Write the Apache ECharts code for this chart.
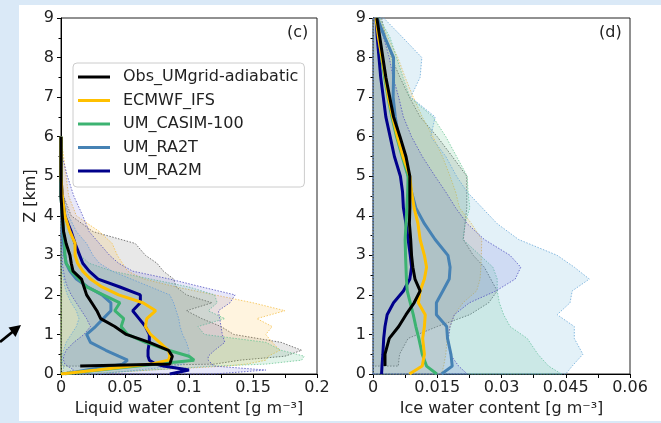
<!DOCTYPE html>
<html>
<head>
<meta charset="utf-8">
<script src="https://cdn.jsdelivr.net/npm/echarts/dist/echarts.min.js"></script>
<style>
html, body { margin: 0; padding: 0; background: #dae9f7; }
#paper { position: absolute; left: 19px; top: 5px; width: 642px; height: 416px; background: #fff; }
#chart { position: absolute; left: 0; top: 0; width: 661px; height: 423px; }
</style>
</head>
<body>
<div id="paper"></div>
<div id="chart"></div>
<script>
var FONT = 'DejaVu Sans';

var names = ['Obs_UMgrid-adiabatic', 'ECMWF_IFS', 'UM_CASIM-100', 'UM_RA2T', 'UM_RA2M'];
var colors = ['#000000', '#FFC000', '#3CB371', '#4682B4', '#00008B'];
var bandFill = ['rgba(100,100,100,0.15)', 'rgba(255,180,40,0.15)', 'rgba(60,179,113,0.15)', 'rgba(100,180,215,0.18)', 'rgba(80,80,220,0.13)'];
var bandEdge = ['#555555', '#f5c04a', '#6cc795', '#6aa8d8', '#5050c0'];

// tick labels
var xLabelsC = ['0', '0.05', '0.1', '0.15', '0.2'];
var xLabelsD = ['0', '0.015', '0.03', '0.045', '0.06'];

// (c) liquid water content, heights in km
var zC = [0, 0.1, 0.2, 0.25, 0.35, 0.45, 0.6, 0.8, 1.0, 1.2, 1.4, 1.6, 1.8, 2.0, 2.2, 2.4, 2.6, 2.8, 3.0, 3.3, 3.6, 4.0, 4.5, 5.0, 5.5, 6.0];
var obsC = [null, null, 0.015, 0.085, 0.086, 0.087, 0.084, 0.069, 0.051, 0.042, 0.031, 0.028, 0.024, 0.020, 0.018, 0.016, 0.0094, 0.008, 0.007, 0.004, 0.002, 0.001, 0, 0, 0, 0];
var ecC = [0, 0.028, 0.055, 0.07, 0.084, 0.085, 0.084, 0.077, 0.070, 0.066, 0.067, 0.074, 0.064, 0.045, 0.032, 0.023, 0.017, 0.013, 0.011, 0.011, 0.007, 0.003, 0.001, 0, 0, 0];
var csC = [0, 0.03, 0.06, 0.075, 0.104, 0.1, 0.084, 0.066, 0.052, 0.047, 0.049, 0.042, 0.046, 0.033, 0.02, 0.014, 0.008, 0.004, 0.003, 0.003, 0.002, 0.001, 0, 0, 0, 0];
var taC = [0.003, 0.02, 0.04, 0.048, 0.052, 0.045, 0.035, 0.023, 0.02, 0.027, 0.033, 0.039, 0.039, 0.032, 0.021, 0.012, 0.007, 0.004, 0.003, 0.002, 0.001, 0.001, 0, 0, 0, 0];
var maC = [0.085, 0.1, 0.08, 0.074, 0.069, 0.068, 0.068, 0.069, 0.069, 0.066, 0.061, 0.056, 0.062, 0.062, 0.046, 0.029, 0.022, 0.017, 0.0146, 0.011, 0.008, 0.003, 0.001, 0, 0, 0];
// upper / lower edges of shading
var obsHiC = [null, null, 0.03, 0.12, 0.14, 0.175, 0.188, 0.172, 0.135, 0.125, 0.11, 0.098, 0.118, 0.098, 0.09, 0.088, 0.08, 0.075, 0.066, 0.058, 0.025, 0.008, 0.002, 0, 0, 0];
var ecHiC = [0.02, 0.07, 0.13, 0.145, 0.16, 0.162, 0.171, 0.165, 0.16, 0.165, 0.153, 0.175, 0.15, 0.12, 0.09, 0.065, 0.052, 0.048, 0.044, 0.04, 0.03, 0.012, 0.006, 0.004, 0.002, 0];
var csHiC = [0.02, 0.07, 0.12, 0.16, 0.188, 0.19, 0.172, 0.16, 0.112, 0.107, 0.128, 0.115, 0.122, 0.12, 0.1, 0.07, 0.04, 0.022, 0.015, 0.01, 0.006, 0.003, 0.001, 0, 0, 0];
var taHiC = [0.03, 0.06, 0.09, 0.095, 0.1, 0.1, 0.1, 0.098, 0.095, 0.093, 0.092, 0.09, 0.088, 0.085, 0.07, 0.055, 0.04, 0.03, 0.025, 0.02, 0.012, 0.006, 0.002, 0, 0, 0];
var maHiC = [0.12, 0.16, 0.12, 0.118, 0.115, 0.115, 0.12, 0.128, 0.126, 0.125, 0.124, 0.123, 0.132, 0.136, 0.11, 0.085, 0.056, 0.045, 0.038, 0.03, 0.022, 0.017, 0.01, 0.005, 0.001, 0];
var taLoC = [0, 0.002, 0.002, 0.001, 0.001, 0.001, 0.002, 0.004, 0.008, 0.012, 0.014, 0.012, 0.008, 0.005, 0.003, 0.002, 0.001, 0, 0, 0, 0, 0, 0, 0, 0, 0];
var maLoC = [0, 0.01, 0.005, 0.003, 0.002, 0.002, 0.004, 0.01, 0.018, 0.023, 0.02, 0.016, 0.012, 0.008, 0.005, 0.003, 0.002, 0.001, 0.001, 0, 0, 0, 0, 0, 0, 0];

// (d) ice water content
var zD = [0, 0.2, 0.5, 0.9, 1.2, 1.5, 1.8, 2.1, 2.4, 2.7, 3.0, 3.4, 3.8, 4.2, 4.6, 5.0, 5.5, 6.0, 6.5, 7.0, 7.5, 8.0, 8.5, 9.0];
var obsD = [null, 0.0028, 0.0028, 0.0038, 0.006, 0.0077, 0.0096, 0.011, 0.0098, 0.0093, 0.009, 0.0088, 0.0085, 0.0086, 0.0086, 0.0086, 0.0077, 0.0063, 0.0048, 0.0039, 0.003, 0.0023, 0.0016, 0.0009];
var ecD = [0.0085, 0.0115, 0.012, 0.0116, 0.012, 0.0122, 0.0106, 0.011, 0.012, 0.0125, 0.012, 0.011, 0.0105, 0.0096, 0.009, 0.0086, 0.007, 0.0057, 0.0046, 0.0036, 0.0029, 0.0021, 0.0013, 0.0007];
var csD = [0.0149, 0.0125, 0.0115, 0.0107, 0.01, 0.0094, 0.0087, 0.008, 0.0078, 0.0077, 0.0076, 0.0075, 0.0077, 0.0079, 0.0081, 0.0082, 0.0068, 0.0055, 0.0044, 0.0035, 0.0027, 0.002, 0.0014, 0.0008];
var taD = [0.016, 0.0185, 0.0182, 0.0174, 0.0172, 0.0148, 0.0148, 0.0163, 0.0178, 0.018, 0.0175, 0.0145, 0.012, 0.01, 0.009, 0.0082, 0.0072, 0.006, 0.0052, 0.0047, 0.0048, 0.0048, 0.0028, 0.001];
var maD = [0.002, 0.0021, 0.0023, 0.0025, 0.0028, 0.0033, 0.0048, 0.0071, 0.0086, 0.009, 0.0087, 0.0082, 0.0077, 0.0071, 0.0069, 0.0064, 0.005, 0.004, 0.003, 0.0024, 0.0018, 0.0014, 0.001, 0.0007];
var obsHiD = [null, 0.0059, 0.0062, 0.0082, 0.015, 0.0226, 0.027, 0.029, 0.0275, 0.026, 0.0234, 0.0211, 0.0215, 0.0219, 0.0219, 0.0219, 0.0185, 0.015, 0.011, 0.0085, 0.0063, 0.0043, 0.003, 0.002];
var ecHiD = [0.016, 0.0165, 0.017, 0.0173, 0.018, 0.019, 0.021, 0.0242, 0.025, 0.0252, 0.0253, 0.0254, 0.023, 0.0202, 0.0193, 0.018, 0.0162, 0.014, 0.0115, 0.0094, 0.0075, 0.0058, 0.0035, 0.0015];
var csHiD = [0.044, 0.041, 0.0385, 0.036, 0.032, 0.0305, 0.0295, 0.029, 0.029, 0.028, 0.025, 0.021, 0.0215, 0.0226, 0.0222, 0.022, 0.0195, 0.017, 0.014, 0.0086, 0.007, 0.0055, 0.004, 0.0015];
var taHiD = [0.045, 0.0465, 0.049, 0.047, 0.047, 0.043, 0.046, 0.0465, 0.0505, 0.047, 0.043, 0.034, 0.029, 0.0255, 0.022, 0.0195, 0.017, 0.0135, 0.0145, 0.0088, 0.011, 0.0114, 0.007, 0.0025];
var maHiD = [0.022, 0.02, 0.018, 0.0176, 0.018, 0.019, 0.0225, 0.0287, 0.0332, 0.0345, 0.032, 0.026, 0.022, 0.0193, 0.017, 0.0145, 0.0115, 0.009, 0.0071, 0.006, 0.0047, 0.0038, 0.0025, 0.001];

var meansC = [obsC, ecC, csC, taC, maC];
var hiC = [obsHiC, ecHiC, csHiC, taHiC, maHiC];
var loC = [null, null, null, taLoC, maLoC];
var meansD = [obsD, ecD, csD, taD, maD];
var hiD = [obsHiD, ecHiD, csHiD, taHiD, maHiD];
var loD = [null, null, null, null, null];

function pairs(vals, z) {
    var out = [];
    for (var i = 0; i < vals.length; i++) {
        if (vals[i] != null) out.push([vals[i], z[i]]);
    }
    return out;
}

// shaded range drawn as one polygon through the axis scales
function band(lo, hi, z, gi, k) {
    return {
        type: 'custom',
        xAxisIndex: gi,
        yAxisIndex: gi,
        z: 1,
        silent: true,
        animation: false,
        data: [[0, 0]],
        renderItem: function (params, api) {
            var up = [], down = [];
            for (var i = 0; i < z.length; i++) {
                if (hi[i] == null) continue;
                down.push(api.coord([lo ? lo[i] : 0, z[i]]));
                up.push(api.coord([hi[i], z[i]]));
            }
            return {
                type: 'polygon',
                shape: { points: down.concat(up.reverse()) },
                style: { fill: bandFill[k], stroke: bandEdge[k], lineWidth: 0.8, lineDash: [1.5, 1.5] }
            };
        }
    };
}

function meanLine(vals, z, gi, k) {
    return {
        type: 'line',
        name: names[k],
        xAxisIndex: gi,
        yAxisIndex: gi,
        data: pairs(vals, z),
        symbol: 'none',
        animation: false,
        z: k === 0 ? 6 : 5,
        lineStyle: { color: colors[k], width: 3 },
        itemStyle: { color: colors[k] }
    };
}

var series = [];
for (var k = 0; k < 5; k++) series.push(band(loC[k], hiC[k], zC, 0, k));
for (var k = 0; k < 5; k++) series.push(band(loD[k], hiD[k], zD, 1, k));
for (var k = 4; k >= 0; k--) {
    series.push(meanLine(meansC[k], zC, 0, k));
    series.push(meanLine(meansD[k], zD, 1, k));
}

function xAxisOf(gi, max, step, labels, title) {
    return {
        gridIndex: gi,
        type: 'value',
        min: 0,
        max: max,
        interval: step,
        axisLine: { show: true, lineStyle: { color: '#000', width: 1 } },
        axisTick: { show: true, length: 4, lineStyle: { color: '#000' } },
        splitLine: { show: false },
        axisLabel: {
            margin: 6,
            fontSize: 16,
            fontFamily: FONT,
            color: '#222',
            formatter: function (v) {
                var n = Math.round(v / step);
                return n % 2 ? '' : labels[n / 2];
            }
        },
        name: title,
        nameLocation: 'middle',
        nameGap: 27,
        nameTextStyle: { fontSize: 16, fontFamily: FONT, color: '#222' }
    };
}

function yAxisOf(gi, title) {
    return {
        gridIndex: gi,
        type: 'value',
        min: 0,
        max: 9,
        interval: 1,
        axisLine: { show: true, lineStyle: { color: '#000', width: 1 } },
        axisTick: { show: true, length: 4, lineStyle: { color: '#000' } },
        minorTick: { show: true, splitNumber: 2, length: 2.5, lineStyle: { color: '#000' } },
        splitLine: { show: false },
        axisLabel: { margin: 7, fontSize: 16, fontFamily: FONT, color: '#222' },
        name: title,
        nameLocation: 'middle',
        nameGap: 22,
        nameRotate: 90,
        nameTextStyle: { fontSize: 16, fontFamily: FONT, color: '#222' }
    };
}

var myChart = echarts.init(document.getElementById('chart'));

var option = {
    backgroundColor: 'transparent',
    animation: false,
    grid: [
        { left: 61, top: 18, width: 256, height: 356, show: true, borderColor: '#222', borderWidth: 1, backgroundColor: 'transparent' },
        { left: 373, top: 18, width: 257, height: 356, show: true, borderColor: '#222', borderWidth: 1, backgroundColor: 'transparent' }
    ],
    xAxis: [
        xAxisOf(0, 0.2, 0.025, xLabelsC, 'Liquid water content [g m\u207B\u00B3]'),
        xAxisOf(1, 0.06, 0.0075, xLabelsD, 'Ice water content [g m\u207B\u00B3]')
    ],
    yAxis: [yAxisOf(0, 'Z [km]'), yAxisOf(1, '')],
    legend: {
        data: names,
        orient: 'vertical',
        left: 73,
        top: 63,
        padding: [6, 6, 8, 5],
        icon: 'rect',
        itemWidth: 32,
        itemHeight: 3,
        itemGap: 7.5,
        selectedMode: false,
        backgroundColor: '#fff',
        borderColor: '#cccccc',
        borderWidth: 1,
        borderRadius: 4,
        textStyle: { fontSize: 16, lineHeight: 16, fontFamily: FONT, color: '#222', padding: [0, 0, 0, 8] }
    },
    graphic: [
        { type: 'text', left: 287, top: 25, style: { text: '(c)', fontSize: 16, fontFamily: FONT, fill: '#222' } },
        { type: 'text', left: 599, top: 25, style: { text: '(d)', fontSize: 16, fontFamily: FONT, fill: '#222' } },
        { type: 'polyline', shape: { points: [[0, 342], [13, 331.5]] }, style: { stroke: '#000', lineWidth: 2.8 } },
        { type: 'polygon', shape: { points: [[21, 325], [8.5, 327.5], [15.5, 337]] }, style: { fill: '#000' } }
    ],
    series: series
};

if (option && typeof option === 'object') {
    myChart.setOption(option, true);
}
</script>
</body>
</html>
